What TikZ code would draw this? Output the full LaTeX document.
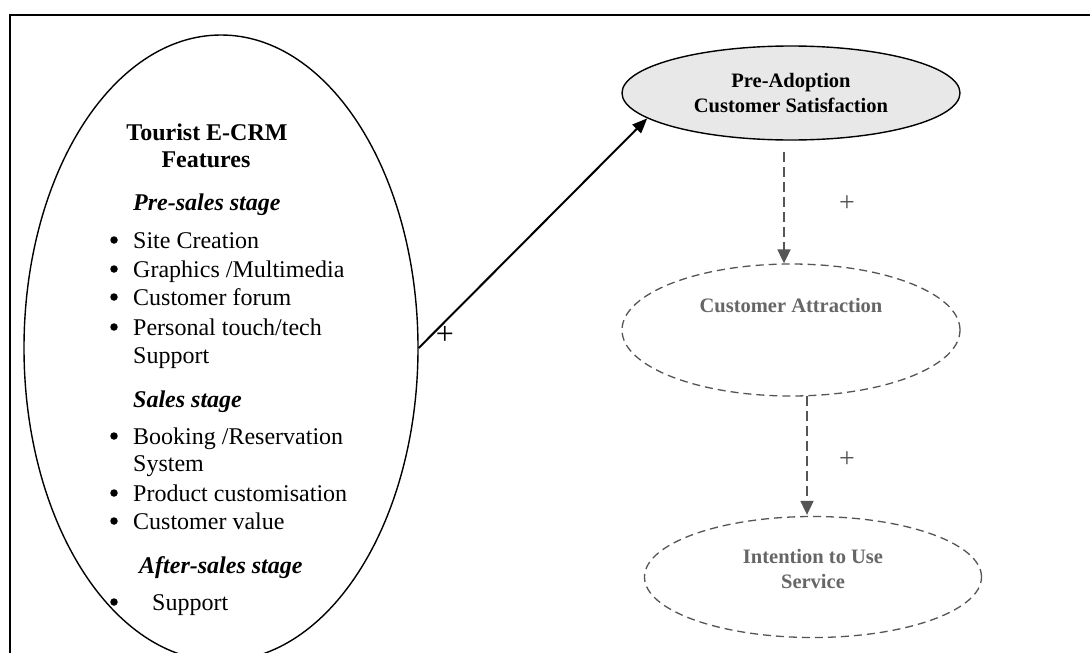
\documentclass[tikz,border=0pt]{standalone}
\usepackage{fontspec}
\setmainfont{Liberation Serif}
\usetikzlibrary{arrows.meta,shapes.geometric}
\definecolor{dgrey}{HTML}{555555}
\definecolor{tgrey}{HTML}{666666}
\definecolor{fillg}{HTML}{E8E8E8}
\begin{document}
\begin{tikzpicture}[x=1pt,y=-1pt,
  ell/.style={draw, ellipse, inner sep=0pt, line width=1.4pt},
  dell/.style={draw=dgrey, ellipse, inner sep=0pt, line width=1.3pt, dash pattern=on 8pt off 5pt},
  big/.style={font=\fontsize{24}{29}\selectfont, inner sep=0pt},
  mid/.style={font=\fontsize{20.5}{25}\selectfont\bfseries, inner sep=0pt},
  bul/.style={circle, fill=black, inner sep=0pt, minimum size=7.5pt},
  itm/.style={big, anchor=base west},
  stage/.style={font=\fontsize{24}{29}\selectfont\bfseries\itshape, inner sep=0pt, anchor=base west},
  dasharrow/.style={draw=dgrey, line width=1.8pt, dash pattern=on 10pt off 5pt, -{Triangle[length=14pt,width=13pt,fill=dgrey]}},
  plusg/.style={text=dgrey, font=\fontsize{28}{28}\selectfont, inner sep=0pt}]
\clip (0,0) rectangle (1090,653);
\fill[white] (0,0) rectangle (1090,653);
% frame
\draw[line width=2.2pt] (10,653) -- (10,15) -- (1095,15);
% left ellipse
\node[ell, minimum width=394pt, minimum height=626pt] (feat) at (221,348) {};
\node[font=\fontsize{24}{29}\selectfont\bfseries, inner sep=0pt, anchor=base] (ttl1) at (207,140) {Tourist E-CRM};
\node[font=\fontsize{24}{29}\selectfont\bfseries, inner sep=0pt, anchor=base] (ttl2) at (206,167) {Features};
\node[stage] (s1) at (133,210) {Pre-sales stage};
\node[bul] (b1) at (114,240) {};
\node[itm] (i1) at (133,248) {Site Creation};
\node[bul] (b2) at (114,269) {};
\node[itm] (i2) at (133,277) {Graphics /Multimedia};
\node[bul] (b3) at (114,297) {};
\node[itm] (i3) at (133,305) {Customer forum};
\node[bul] (b4) at (114,327) {};
\node[itm] (i4) at (133,335) {Personal touch/tech};
\node[itm] (i4b) at (133,363) {Support};
\node[stage] (s2) at (133,407) {Sales stage};
\node[bul] (b5) at (114,436) {};
\node[itm] (i5) at (133,444) {Booking /Reservation};
\node[itm] (i5b) at (133,471) {System};
\node[bul] (b6) at (114,493) {};
\node[itm] (i6) at (133,501) {Product customisation};
\node[bul] (b7) at (114,521) {};
\node[itm] (i7) at (133,529) {Customer value};
\node[stage] (s3) at (139,573) {After-sales stage};
\node[bul] (b8) at (114,602) {};
\node[itm] (i8) at (152,610) {Support};
% right ellipses
\node[ell, fill=fillg, minimum width=338pt, minimum height=94pt, mid, align=center] (pre) at (791,93) {Pre-Adoption\\Customer Satisfaction};
\node[dell, minimum width=338pt, minimum height=132pt] (attr) at (791,330) {};
\node[mid, text=tgrey, anchor=base] (attrt) at (791,312) {Customer Attraction};
\node[dell, minimum width=337pt, minimum height=121pt] (int) at (813,577) {};
\node[mid, text=tgrey, anchor=base] (intt1) at (813,563) {Intention to Use};
\node[mid, text=tgrey, anchor=base] (intt2) at (813,588) {Service};
% connectors
\draw[line width=2pt, -{Triangle[length=15pt,width=12pt]}] (feat.east) -- (pre.190);
\node[font=\fontsize{32}{32}\selectfont, inner sep=0pt] (p0) at (445,335) {+};
\coordinate (a1) at (784,152);
\draw[dasharrow] (a1) -- (a1 |- attr.north);
\node[plusg] (p1) at (847,204) {+};
\coordinate (a2) at (807,396);
\draw[dasharrow] (a2) -- ([yshift=1pt]a2 |- int.north);
\node[plusg] (p2) at (847,460) {+};
\end{tikzpicture}
\end{document}
